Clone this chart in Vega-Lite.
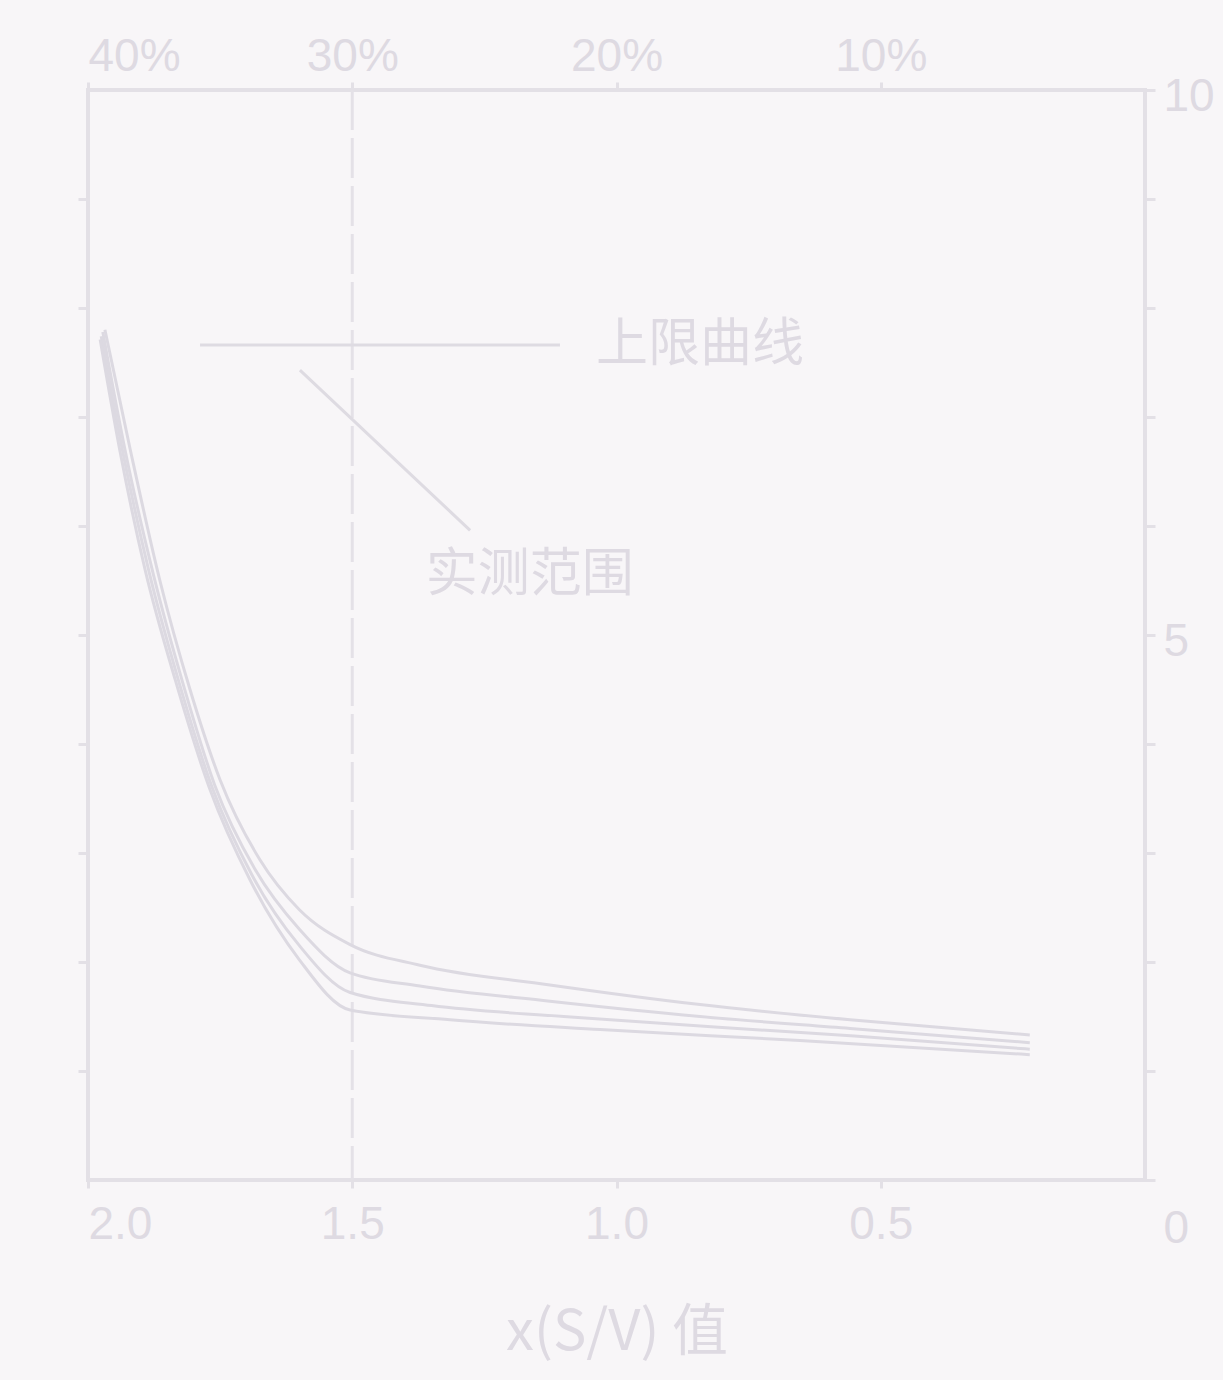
{
  "$schema": "https://vega.github.io/schema/vega-lite/v6.json",
  "width": 1057,
  "height": 1090,
  "autosize": {"type": "none"},
  "padding": {"left": 88, "top": 90, "right": 78, "bottom": 200},
  "background": "#f8f6f8",
  "config": {
    "view": {"stroke": "#e3e0e6", "strokeWidth": 4},
    "axis": {"domain": false, "grid": false, "labelFont": "Liberation Sans", "titleFont": "Noto Sans CJK SC", "labelColor": "#dedae2", "titleColor": "#dedae2", "tickColor": "#e3e0e6", "tickWidth": 3}
  },
  "datasets": {
    "curves": [
      {"curve": "A", "x": 1.968, "y": 7.80}, {"curve": "A", "x": 1.92, "y": 6.70}, {"curve": "A", "x": 1.864, "y": 5.50}, {"curve": "A", "x": 1.807, "y": 4.50}, {"curve": "A", "x": 1.75, "y": 3.67}, {"curve": "A", "x": 1.675, "y": 2.94}, {"curve": "A", "x": 1.60, "y": 2.48}, {"curve": "A", "x": 1.504, "y": 2.16}, {"curve": "A", "x": 1.372, "y": 1.97}, {"curve": "A", "x": 1.126, "y": 1.79}, {"curve": "A", "x": 0.842, "y": 1.61}, {"curve": "A", "x": 0.558, "y": 1.47}, {"curve": "A", "x": 0.218, "y": 1.33},
      {"curve": "B", "x": 1.972, "y": 7.78}, {"curve": "B", "x": 1.93, "y": 6.70}, {"curve": "B", "x": 1.876, "y": 5.55}, {"curve": "B", "x": 1.82, "y": 4.55}, {"curve": "B", "x": 1.76, "y": 3.62}, {"curve": "B", "x": 1.684, "y": 2.85}, {"curve": "B", "x": 1.60, "y": 2.30}, {"curve": "B", "x": 1.504, "y": 1.90}, {"curve": "B", "x": 1.372, "y": 1.78}, {"curve": "B", "x": 1.126, "y": 1.64}, {"curve": "B", "x": 0.842, "y": 1.50}, {"curve": "B", "x": 0.558, "y": 1.39}, {"curve": "B", "x": 0.218, "y": 1.26},
      {"curve": "C", "x": 1.975, "y": 7.74}, {"curve": "C", "x": 1.935, "y": 6.70}, {"curve": "C", "x": 1.884, "y": 5.57}, {"curve": "C", "x": 1.828, "y": 4.57}, {"curve": "C", "x": 1.765, "y": 3.60}, {"curve": "C", "x": 1.69, "y": 2.80}, {"curve": "C", "x": 1.60, "y": 2.15}, {"curve": "C", "x": 1.504, "y": 1.72}, {"curve": "C", "x": 1.35, "y": 1.60}, {"curve": "C", "x": 1.10, "y": 1.50}, {"curve": "C", "x": 0.80, "y": 1.40}, {"curve": "C", "x": 0.55, "y": 1.32}, {"curve": "C", "x": 0.218, "y": 1.20},
      {"curve": "D", "x": 1.977, "y": 7.71}, {"curve": "D", "x": 1.94, "y": 6.70}, {"curve": "D", "x": 1.892, "y": 5.60}, {"curve": "D", "x": 1.835, "y": 4.59}, {"curve": "D", "x": 1.769, "y": 3.58}, {"curve": "D", "x": 1.693, "y": 2.75}, {"curve": "D", "x": 1.60, "y": 2.02}, {"curve": "D", "x": 1.504, "y": 1.56}, {"curve": "D", "x": 1.315, "y": 1.47}, {"curve": "D", "x": 1.031, "y": 1.38}, {"curve": "D", "x": 0.653, "y": 1.28}, {"curve": "D", "x": 0.218, "y": 1.15}
    ],
    "leaders": [
      {"x": 1.788, "x2": 1.107, "y": 7.66, "y2": 7.66},
      {"x": 1.599, "x2": 1.277, "y": 7.43, "y2": 5.96}
    ],
    "labels": [
      {"x": 0.842, "y": 7.66, "text": "上限曲线"},
      {"x": 1.164, "y": 5.55, "text": "实测范围"}
    ],
    "vline": [{"x": 1.5}]
  },
  "layer": [
    {
      "data": {"name": "vline"},
      "mark": {"type": "rule", "color": "#e4e1e7", "strokeWidth": 3, "strokeDash": [40, 8]},
      "encoding": {
        "x": {"field": "x", "type": "quantitative", "scale": {"domain": [0, 2], "reverse": true, "nice": false},
          "axis": {"orient": "bottom", "values": [2, 1.5, 1, 0.5], "labelExpr": "format(datum.value, '.1f')", "labelFontSize": 46, "labelPadding": 14, "tickSize": 8, "title": "x(S/V) 值", "titleFontSize": 56, "titleFontWeight": "normal", "titlePadding": 58}}
      }
    },
    {
      "data": {"name": "curves"},
      "mark": {"type": "line", "color": "#dcd9e1", "strokeWidth": 3, "interpolate": "monotone"},
      "encoding": {
        "x": {"field": "x", "type": "quantitative",
          "axis": {"orient": "top", "values": [2, 1.5, 1, 0.5], "labelExpr": "format(datum.value * 20, 'd') + '%'", "labelFontSize": 46, "labelPadding": 2, "tickSize": 8, "title": null}},
        "y": {"field": "y", "type": "quantitative", "scale": {"domain": [0, 10], "nice": false},
          "axis": {"orient": "right", "values": [0, 1, 2, 3, 4, 5, 6, 7, 8, 9, 10], "labelExpr": "datum.value % 5 == 0 ? format(datum.value, 'd') : ''", "labelFontSize": 46, "labelPadding": 8, "tickSize": 10, "labelOffset": {"condition": {"test": "datum.value == 0", "value": 48}, "value": 6}, "title": null}},
        "detail": {"field": "curve"}
      }
    },
    {
      "data": {"name": "leaders"},
      "mark": {"type": "rule", "color": "#dedbe2", "strokeWidth": 3},
      "encoding": {
        "x": {"field": "x", "type": "quantitative", "axis": null},
        "x2": {"field": "x2"},
        "y": {"field": "y", "type": "quantitative",
          "axis": {"orient": "left", "values": [1, 2, 3, 4, 5, 6, 7, 8, 9], "labels": false, "tickSize": 10, "title": null}},
        "y2": {"field": "y2"}
      }
    },
    {
      "data": {"name": "labels"},
      "mark": {"type": "text", "color": "#dedae2", "font": "Noto Sans CJK SC", "fontSize": 52, "align": "center", "baseline": "middle"},
      "encoding": {
        "x": {"field": "x", "type": "quantitative", "axis": null},
        "y": {"field": "y", "type": "quantitative", "axis": null},
        "text": {"field": "text"}
      }
    }
  ]
}
